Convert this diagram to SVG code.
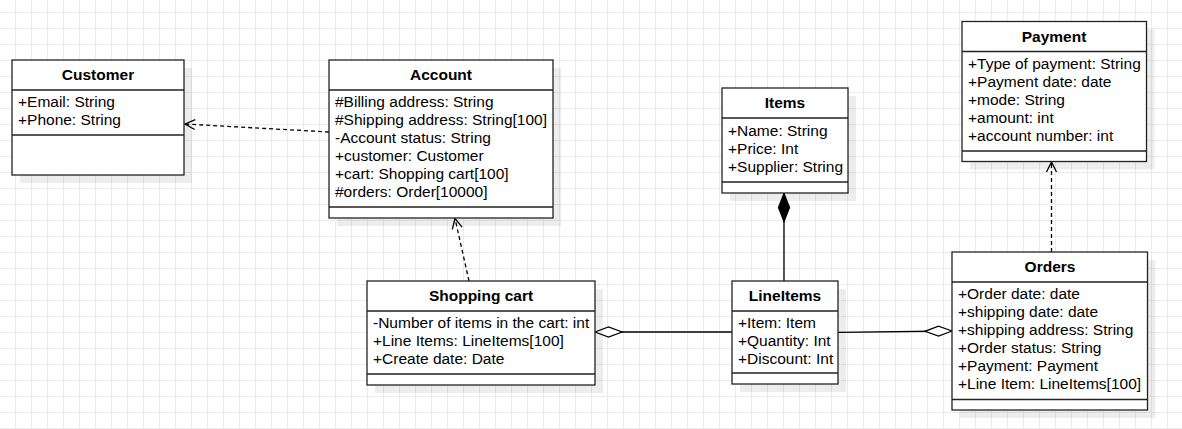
<svg xmlns="http://www.w3.org/2000/svg" width="1182" height="429" viewBox="0 0 1182 429">
<style>
.box{fill:#fff;stroke:#222;stroke-width:1.3}
.sh{fill:#000;opacity:0.07}
.div{stroke:#222;stroke-width:1.3;fill:none}
.t{font-family:"Liberation Sans",Arial,sans-serif;font-size:15.5px;fill:#000}
.h{font-family:"Liberation Sans",Arial,sans-serif;font-size:15.5px;font-weight:bold;fill:#000;text-anchor:middle}
.c{stroke:#000;stroke-width:1.3;fill:none}
.d{stroke-dasharray:4 3}
</style>
<defs>
<pattern id="grid" x="15" y="12" width="16" height="16" patternUnits="userSpaceOnUse">
<path d="M0 0.5H16M0.5 0V16" stroke="#ebebeb" stroke-width="1" fill="none"/>
</pattern>
<marker id="open" markerUnits="userSpaceOnUse" markerWidth="14" markerHeight="14" viewBox="-12 -7 14 14" refX="0" refY="0" orient="auto">
<path d="M-10,-5L0,0L-10,5" fill="none" stroke="#000" stroke-width="1.3" stroke-dasharray="none"/>
</marker>
<marker id="odia" markerUnits="userSpaceOnUse" markerWidth="30" markerHeight="14" viewBox="-1 -7 30 14" refX="0" refY="0" orient="auto">
<path d="M0,0L13.5,-5L27,0L13.5,5Z" fill="#fff" stroke="#000" stroke-width="1.3"/>
</marker>
<marker id="fdia" markerUnits="userSpaceOnUse" markerWidth="30" markerHeight="14" viewBox="-1 -7 30 14" refX="0" refY="0" orient="auto">
<path d="M0,0L14,-5.5L28,0L14,5.5Z" fill="#000" stroke="#000" stroke-width="1.3"/>
</marker>
</defs>
<rect x="0" y="0" width="1182" height="429" fill="#fff"/>
<rect x="0" y="0" width="1182" height="429" fill="url(#grid)"/>

<g id="connectors">
<path class="c d" d="M329,132L185,124" marker-end="url(#open)"/>
<path class="c d" d="M469,281L455,218.5" marker-end="url(#open)"/>
<path class="c d" d="M1051.5,252L1051.5,162" marker-end="url(#open)"/>
<path class="c" d="M595,332L732,332" marker-start="url(#odia)"/>
<path class="c" d="M952,331L838,332.3" marker-start="url(#odia)"/>
<path class="c" d="M784,193.5L784,281" marker-start="url(#fdia)"/>
</g>

<g id="customer">
<rect class="sh" x="20" y="68" width="172" height="115"/>
<rect class="box" x="12" y="60" width="172" height="115"/>
<path class="div" d="M12,90H184M12,135H184"/>
<text class="h" x="98" y="80">Customer</text>
<text class="t" x="18" y="107">+Email: String</text>
<text class="t" x="18" y="125">+Phone: String</text>
</g>

<g id="account">
<rect class="sh" x="337" y="68" width="224" height="158"/>
<rect class="box" x="329" y="60" width="224" height="158"/>
<path class="div" d="M329,90H553M329,207H553"/>
<text class="h" x="441" y="80">Account</text>
<text class="t" x="335" y="107">#Billing address: String</text>
<text class="t" x="335" y="125">#Shipping address: String[100]</text>
<text class="t" x="335" y="143">-Account status: String</text>
<text class="t" x="335" y="161">+customer: Customer</text>
<text class="t" x="335" y="179">+cart: Shopping cart[100]</text>
<text class="t" x="335" y="197">#orders: Order[10000]</text>
</g>

<g id="items">
<rect class="sh" x="730" y="96" width="126" height="105"/>
<rect class="box" x="722" y="88" width="126" height="105"/>
<path class="div" d="M722,118H848M722,182H848"/>
<text class="h" x="785" y="108">Items</text>
<text class="t" x="728" y="135.5">+Name: String</text>
<text class="t" x="728" y="153.5">+Price: Int</text>
<text class="t" x="728" y="171.5">+Supplier: String</text>
</g>

<g id="payment">
<rect class="sh" x="970" y="29.5" width="184.5" height="140"/>
<rect class="box" x="962" y="21.5" width="184.5" height="140"/>
<path class="div" d="M962,51.5H1146.5M962,151H1146.5"/>
<text class="h" x="1054" y="42">Payment</text>
<text class="t" x="968" y="68.5">+Type of payment: String</text>
<text class="t" x="968" y="86.5">+Payment date: date</text>
<text class="t" x="968" y="104.5">+mode: String</text>
<text class="t" x="968" y="122.5">+amount: int</text>
<text class="t" x="968" y="140.5">+account number: int</text>
</g>

<g id="orders">
<rect class="sh" x="960" y="260" width="195.5" height="158"/>
<rect class="box" x="952" y="252" width="195.5" height="158"/>
<path class="div" d="M952,282H1147.5M952,399.5H1147.5"/>
<text class="h" x="1050" y="272">Orders</text>
<text class="t" x="958" y="298.5">+Order date: date</text>
<text class="t" x="958" y="316.5">+shipping date: date</text>
<text class="t" x="958" y="334.5">+shipping address: String</text>
<text class="t" x="958" y="352.5">+Order status: String</text>
<text class="t" x="958" y="370.5">+Payment: Payment</text>
<text class="t" x="958" y="388.5">+Line Item: LineItems[100]</text>
</g>

<g id="shopping-cart">
<rect class="sh" x="375" y="289" width="228" height="104"/>
<rect class="box" x="367" y="281" width="228" height="104"/>
<path class="div" d="M367,311H595M367,374H595"/>
<text class="h" x="481" y="301">Shopping cart</text>
<text class="t" x="373" y="327.5">-Number of items in the cart: int</text>
<text class="t" x="373" y="345.5">+Line Items: LineItems[100]</text>
<text class="t" x="373" y="363.5">+Create date: Date</text>
</g>

<g id="lineitems">
<rect class="sh" x="740" y="289" width="106" height="103"/>
<rect class="box" x="732" y="281" width="106" height="103"/>
<path class="div" d="M732,311H838M732,373H838"/>
<text class="h" x="785" y="301">LineItems</text>
<text class="t" x="738" y="327.5">+Item: Item</text>
<text class="t" x="738" y="345.5">+Quantity: Int</text>
<text class="t" x="738" y="363.5">+Discount: Int</text>
</g>
</svg>
